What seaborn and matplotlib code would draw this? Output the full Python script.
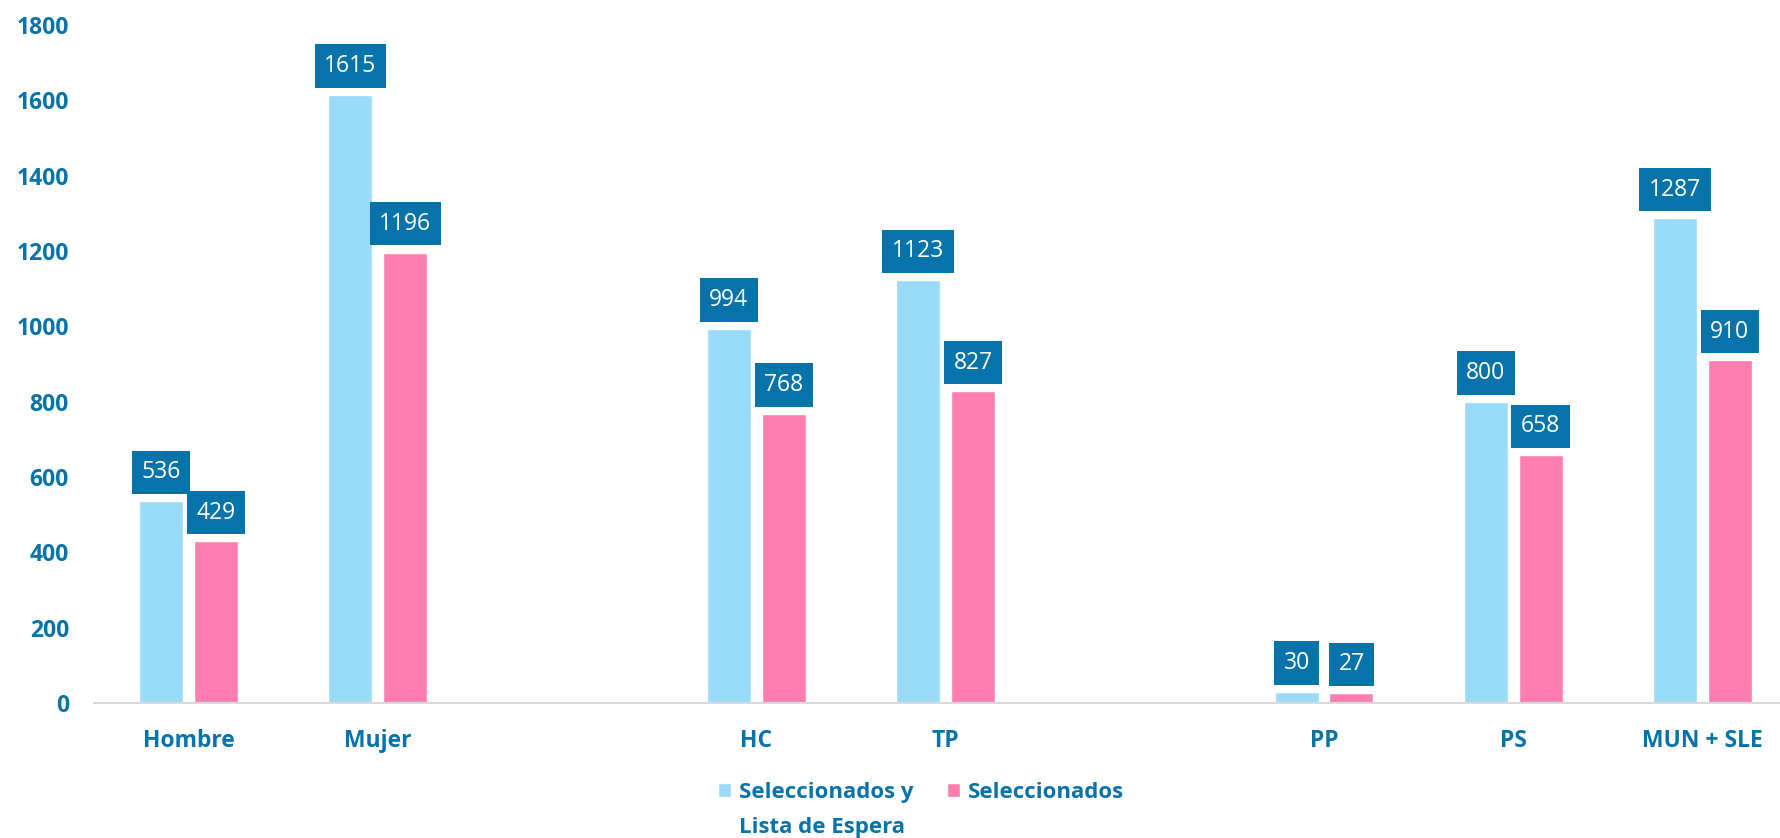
import matplotlib
matplotlib.use("Agg")
import matplotlib.pyplot as plt
import pandas as pd
import seaborn as sns

# data
categories = ["Hombre", "Mujer", "HC", "TP", "PP", "PS", "MUN + SLE"]
sel_lista = [536, 1615, 994, 1123, 30, 800, 1287]
seleccionados = [429, 1196, 768, 827, 27, 658, 910]
series_names = ["Seleccionados y Lista de Espera", "Seleccionados"]
# empty slots separate the three groups of categories
order = ["Hombre", "Mujer", "_gap1", "HC", "TP", "_gap2", "PP", "PS", "MUN + SLE"]
yticks = [0, 200, 400, 600, 800, 1000, 1200, 1400, 1600, 1800]

df = pd.DataFrame({
    "categoria": categories * 2,
    "serie": [series_names[0]] * len(categories) + [series_names[1]] * len(categories),
    "valor": sel_lista + seleccionados,
})

sns.set_style("white")
plt.rcParams["font.family"] = ["Open Sans", "DejaVu Sans"]

dark = "#0673AA"
palette = {series_names[0]: "#9BDBFA", series_names[1]: "#FF7EB2"}

fig = plt.figure(figsize=(17.81, 8.38), dpi=100)
ax = fig.add_axes([94 / 1781, 135 / 838, 1 - 94 / 1781, 678 / 838])

sns.barplot(data=df, x="categoria", y="valor", hue="serie", order=order,
            hue_order=series_names, palette=palette, width=0.58, gap=0.2,
            saturation=1, ax=ax)

for cont in ax.containers:
    ax.bar_label(cont, padding=12, color="white", fontsize=16.5,
                 bbox=dict(boxstyle="square,pad=0.42", fc=dark, ec="none"))

ax.set_xlim(-0.5, 8.415)
ax.set_ylim(0, 1800)
ax.set_yticks(yticks)
ax.set_xticks(range(len(order)))
ax.set_xticklabels([c if not c.startswith("_") else "" for c in order])
ax.set_xlabel("")
ax.set_ylabel("")

for lab in ax.get_xticklabels() + ax.get_yticklabels():
    lab.set_fontweight("bold")
    lab.set_color(dark)
    lab.set_fontsize(16.5)
ax.tick_params(axis="x", length=0, pad=19)
ax.tick_params(axis="y", length=0, pad=18)

for s in ["top", "right", "left"]:
    ax.spines[s].set_visible(False)
ax.spines["bottom"].set_color("#D9D9D9")
ax.spines["bottom"].set_linewidth(1.5)

# legend: first label wraps, second line is added under the first text
handles, _ = ax.get_legend_handles_labels()
leg = ax.legend(handles, ["Seleccionados y", "Seleccionados"],
                loc="center left", bbox_to_anchor=(718 / 1781, 1 - 792 / 838),
                bbox_transform=fig.transFigure, ncol=2, frameon=False,
                borderpad=0, borderaxespad=0, handlelength=0.6,
                handleheight=0.6, handletextpad=0.35, columnspacing=1.5,
                prop=dict(weight="bold", size=16))
for t in leg.get_texts():
    t.set_color(dark)
first = leg.get_texts()[0]
# drawn after the legend so the first text already has its place
ax.annotate("Lista de Espera", xy=(0, 0.5), xycoords=first,
            xytext=(0, -35), textcoords="offset pixels",
            ha="left", va="center", color=dark, fontsize=16,
            fontweight="bold", annotation_clip=False, zorder=10)

fig.savefig("out.png", dpi=100)
